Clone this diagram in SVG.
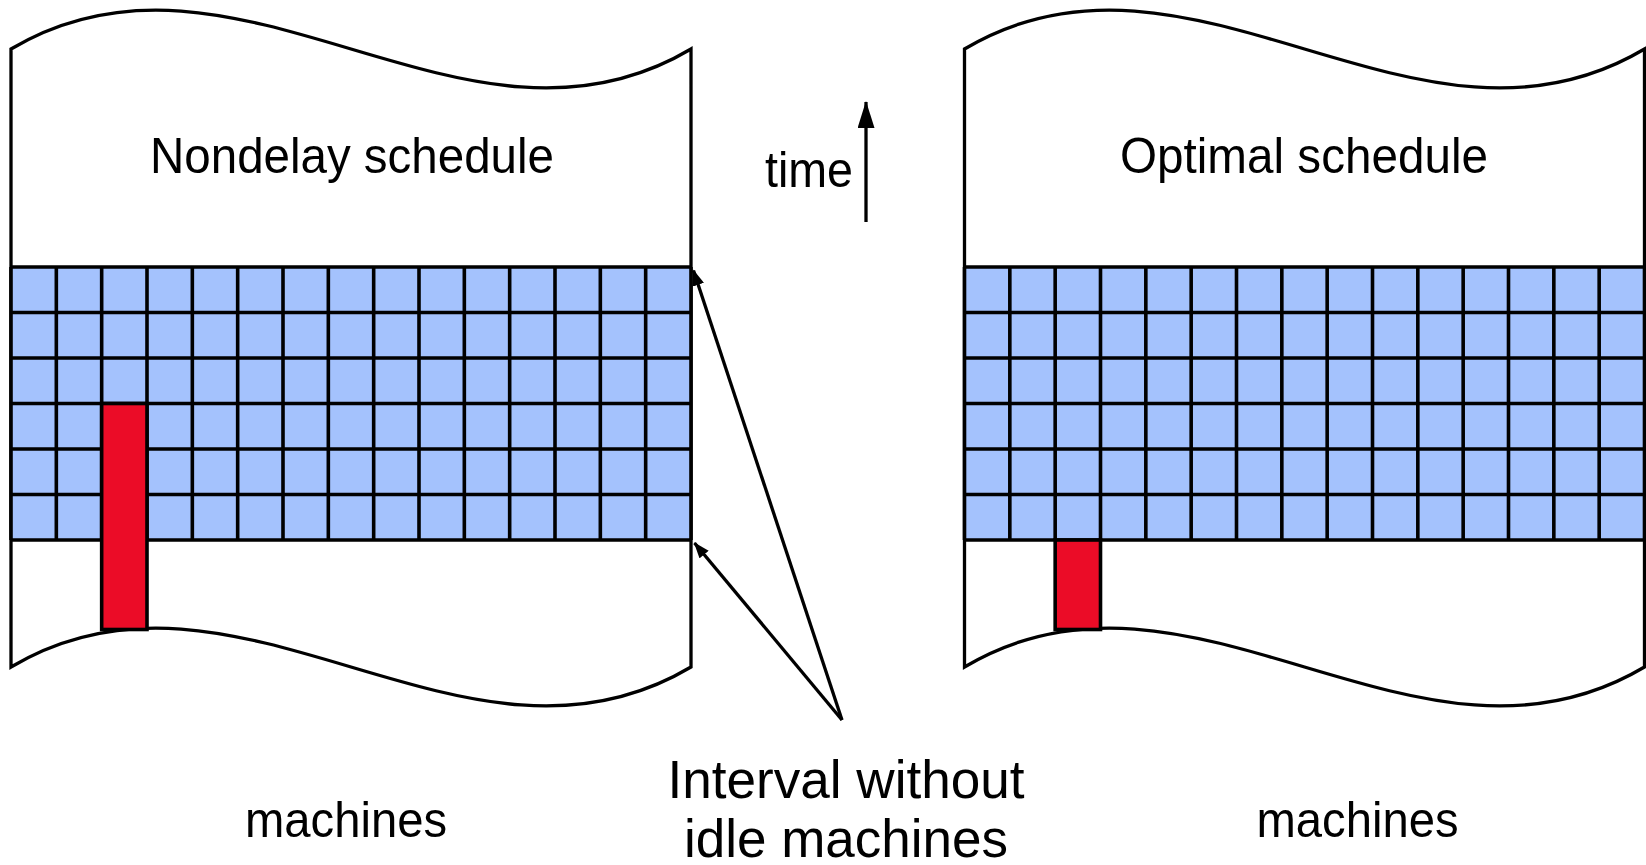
<svg xmlns="http://www.w3.org/2000/svg" width="1646" height="865" viewBox="0 0 1646 865">
<style>
.outline{fill:#ffffff;stroke:#000;stroke-width:3.3;stroke-linejoin:miter}
.band{fill:#a4c2fd;stroke:none}
.grid{fill:none;stroke:#000;stroke-width:3.6}
.idle{fill:#eb0c27;stroke:#000;stroke-width:3.6}
.lbl{font-family:"Liberation Sans",Arial,sans-serif;fill:#000}
.conn{stroke:#000;stroke-width:3.3;fill:none}
</style>
<defs>
<marker id="headSmall" markerUnits="userSpaceOnUse" markerWidth="16" markerHeight="12" refX="15" refY="6" orient="auto">
<path d="M0,0 L16,6 L0,12 z" fill="#000"/>
</marker>
<marker id="headBig" markerUnits="userSpaceOnUse" markerWidth="27" markerHeight="17" refX="26" refY="8.5" orient="auto">
<path d="M0,0 L27,8.5 L0,17 z" fill="#000"/>
</marker>
</defs>
<rect x="0" y="0" width="1646" height="865" fill="#ffffff"/>

<g id="nondelay">
<path class="outline" d="M11,49 C237.7,-86 464.3,184 691,49 L691,667 C464.3,802 237.7,532 11,667 Z"/>
<rect class="band" x="11" y="267" width="680" height="273"/>
<path class="grid" d="M11,267 H691 M11,312.5 H691 M11,358 H691 M11,403.5 H691 M11,449 H691 M11,494.5 H691 M11,540 H691 M11,267 V540 M56.33,267 V540 M101.67,267 V540 M147,267 V540 M192.33,267 V540 M237.67,267 V540 M283,267 V540 M328.33,267 V540 M373.67,267 V540 M419,267 V540 M464.33,267 V540 M509.67,267 V540 M555,267 V540 M600.33,267 V540 M645.67,267 V540 M691,267 V540"/>
<rect class="idle" x="101.67" y="403.5" width="45.33" height="226"/>
<text class="lbl" x="352" y="173" font-size="50" text-anchor="middle" textLength="404" lengthAdjust="spacingAndGlyphs">Nondelay schedule</text>
<text class="lbl" x="346" y="837" font-size="50" text-anchor="middle" textLength="202" lengthAdjust="spacingAndGlyphs">machines</text>
</g>

<g id="optimal">
<path class="outline" d="M964.5,49 C1191.2,-86 1417.8,184 1644.5,49 L1644.5,667 C1417.8,802 1191.2,532 964.5,667 Z"/>
<rect class="band" x="964.5" y="267" width="680" height="273"/>
<path class="grid" d="M964.5,267 H1644.5 M964.5,312.5 H1644.5 M964.5,358 H1644.5 M964.5,403.5 H1644.5 M964.5,449 H1644.5 M964.5,494.5 H1644.5 M964.5,540 H1644.5 M964.5,267 V540 M1009.83,267 V540 M1055.17,267 V540 M1100.5,267 V540 M1145.83,267 V540 M1191.17,267 V540 M1236.5,267 V540 M1281.83,267 V540 M1327.17,267 V540 M1372.5,267 V540 M1417.83,267 V540 M1463.17,267 V540 M1508.5,267 V540 M1553.83,267 V540 M1599.17,267 V540 M1644.5,267 V540"/>
<rect class="idle" x="1055.17" y="540" width="45.33" height="89.5"/>
<text class="lbl" x="1304" y="173" font-size="50" text-anchor="middle" textLength="368" lengthAdjust="spacingAndGlyphs">Optimal schedule</text>
<text class="lbl" x="1357.5" y="837" font-size="50" text-anchor="middle" textLength="202" lengthAdjust="spacingAndGlyphs">machines</text>
</g>

<g id="time-axis">
<text class="lbl" x="765" y="187" font-size="50" textLength="88" lengthAdjust="spacingAndGlyphs">time</text>
</g>

<g id="interval-label">
<text class="lbl" x="846" y="798" font-size="53" text-anchor="middle" textLength="357" lengthAdjust="spacingAndGlyphs">Interval without</text>
<text class="lbl" x="846" y="857" font-size="53" text-anchor="middle" textLength="324" lengthAdjust="spacingAndGlyphs">idle machines</text>
</g>

<g id="connectors">
<line class="conn" x1="866" y1="222" x2="866" y2="102" marker-end="url(#headBig)"/>
<line class="conn" x1="842" y1="720" x2="693.5" y2="270.5" marker-end="url(#headSmall)"/>
<line class="conn" x1="842" y1="720" x2="694.5" y2="543" marker-end="url(#headSmall)"/>
</g>
</svg>
